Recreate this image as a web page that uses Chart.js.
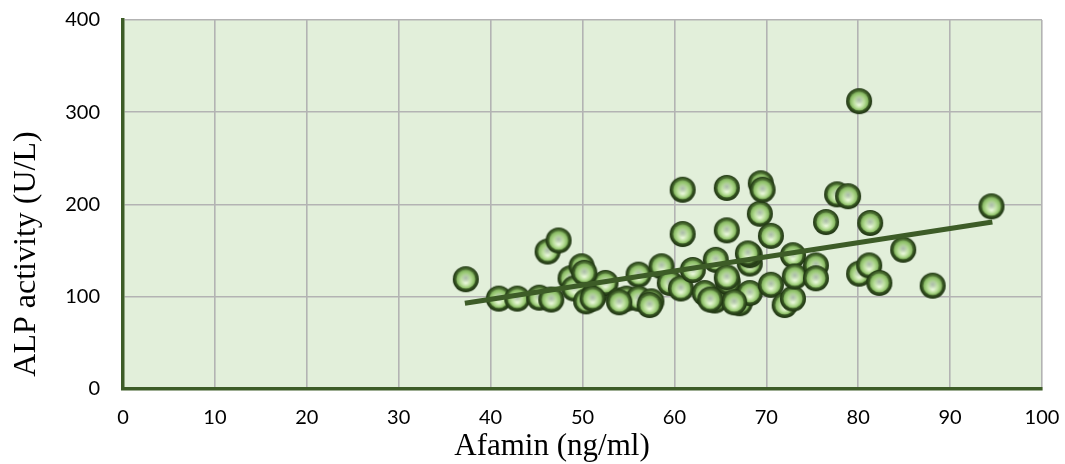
<!DOCTYPE html>
<html>
<head>
<meta charset="utf-8">
<script src="https://cdn.jsdelivr.net/npm/chart.js@4"></script>
<style>
  html, body { margin: 0; padding: 0; background: #ffffff; }
  #wrap { width: 1065px; height: 464px; }
</style>
</head>
<body>
<div id="wrap"><canvas id="alpChart" width="1065" height="464"></canvas></div>
<script>
// afamin (ng/ml) vs ALP activity (U/L)
var afamin = [37.3, 40.9, 42.9, 45.3, 46.2, 46.6, 47.4, 48.7, 49.1, 49.9,
              50.4, 51.3, 52.5, 54.0, 54.8, 56.1, 56.1, 57.5, 58.6, 59.5,
              60.7, 60.9, 60.9, 62.0, 63.3, 64.4, 64.5, 65.7, 65.7, 65.8,
              67.1, 68.2, 68.2, 68.2, 69.3, 69.4, 69.6, 70.5, 70.5, 72.0,
              72.9, 72.9, 73.1, 75.4, 75.4, 76.5, 77.7, 78.9, 80.1, 80.1,
              81.2, 81.3, 82.3, 84.9, 88.1, 94.5,
              54.0, 57.3, 51.1, 65.7, 66.5, 63.9, 68.0, 50.2];
var alp    = [119, 98, 98, 99, 149, 97, 161, 120, 109, 133,
              95, 102, 115, 96, 98, 124, 98, 95, 133, 115,
              109, 168, 216, 129, 104, 96, 140, 218, 172, 116,
              93, 104, 136, 145, 190, 223, 216, 166, 113, 91,
              98, 145, 122, 134, 120, 181, 211, 209, 312, 125,
              134, 180, 115, 151, 112, 198,
              94, 91, 98, 121, 94, 97, 147, 126];

// linear trend line ends as drawn in the figure
var trendX = [37.2, 94.6];
var trendY = [93, 181];

var xTicks = [0, 100, 10];
var yTicks = [0, 400, 100];

var darkGreen = '#3d5c27';

function makeBall(r) {
    var c = document.createElement('canvas');
    var s = Math.ceil(2 * r + 2);
    c.width = s; c.height = s;
    var g = c.getContext('2d');
    var cx = s / 2, cy = s / 2;

    var ring = g.createRadialGradient(cx, cy - r * 0.2, r * 0.5, cx, cy, r);
    ring.addColorStop(0, '#5f8442');
    ring.addColorStop(0.6, '#3a5a24');
    ring.addColorStop(1, '#1c3010');
    g.fillStyle = ring;
    g.beginPath(); g.arc(cx, cy, r, 0, Math.PI * 2); g.fill();

    var ir = r * 0.74;
    var inner = g.createRadialGradient(cx, cy + ir * 0.35, 1, cx, cy, ir);
    inner.addColorStop(0, '#e6f6d6');
    inner.addColorStop(0.5, '#b9de9a');
    inner.addColorStop(0.85, '#8fc06a');
    inner.addColorStop(1, '#6f9c4f');
    g.fillStyle = inner;
    g.beginPath(); g.arc(cx, cy, ir, 0, Math.PI * 2); g.fill();

    var spot = g.createRadialGradient(cx, cy - r * 0.1, 0, cx, cy - r * 0.1, r * 0.38);
    spot.addColorStop(0, 'rgba(170,185,170,0.95)');
    spot.addColorStop(1, 'rgba(170,185,170,0)');
    g.fillStyle = spot;
    g.beginPath(); g.arc(cx, cy - r * 0.1, r * 0.38, 0, Math.PI * 2); g.fill();
    return c;
}

var ball = makeBall(13);

var points = afamin.map(function (x, i) { return { x: x, y: alp[i] }; });
var trend = trendX.map(function (x, i) { return { x: x, y: trendY[i] }; });

var plotBg = {
    id: 'plotBg',
    beforeDraw: function (chart) {
        var a = chart.chartArea, ctx = chart.ctx;
        ctx.save();
        ctx.fillStyle = '#ffffff';
        ctx.fillRect(0, 0, chart.width, chart.height);
        ctx.fillStyle = '#e2efda';
        ctx.fillRect(a.left, a.top, a.right - a.left, a.bottom - a.top);
        ctx.restore();
    }
};

var axisTitles = {
    id: 'axisTitles',
    afterDraw: function (chart) {
        var ctx = chart.ctx;
        ctx.save();
        ctx.fillStyle = '#000000';
        ctx.textAlign = 'center';
        ctx.textBaseline = 'alphabetic';
        ctx.font = '31px "Liberation Serif", "Times New Roman", serif';
        ctx.fillText('Afamin (ng/ml)', 552, 455);
        ctx.translate(35, 254);
        ctx.rotate(-Math.PI / 2);
        ctx.font = '32px "Liberation Serif", "Times New Roman", serif';
        ctx.fillText('ALP activity (U/L)', 0, 0);
        ctx.restore();
    }
};

function noPad(s) {
    s.paddingTop = 0; s.paddingBottom = 0;
    s.paddingLeft = 0; s.paddingRight = 0;
}

var ctx = document.getElementById('alpChart').getContext('2d');
var alpChart = new Chart(ctx, {
    type: 'scatter',
    data: {
        datasets: [
            {
                label: 'Trend',
                type: 'line',
                data: trend,
                borderColor: darkGreen,
                borderWidth: 5,
                pointRadius: 0,
                fill: false,
                order: 0
            },
            {
                label: 'ALP',
                data: points,
                pointStyle: ball,
                pointRadius: 13,
                order: 1
            }
        ]
    },
    options: {
        responsive: false,
        animation: false,
        devicePixelRatio: 1,
        layout: { padding: { top: 20, right: 23, left: 0, bottom: 0 } },
        plugins: {
            legend: { display: false },
            tooltip: { enabled: false }
        },
        scales: {
            x: {
                type: 'linear',
                min: xTicks[0],
                max: xTicks[1],
                afterFit: function (s) { s.height = 75; noPad(s); },
                ticks: {
                    stepSize: xTicks[2],
                    padding: 17,
                    color: '#000000',
                    font: { family: 'Lato', size: 20 }
                },
                grid: { color: '#b3b3b3', lineWidth: 1.6, drawTicks: false },
                border: { color: darkGreen, width: 3.5 }
            },
            y: {
                min: yTicks[0],
                max: yTicks[1],
                afterFit: function (s) { s.width = 123; noPad(s); },
                ticks: {
                    stepSize: yTicks[2],
                    padding: 23,
                    color: '#000000',
                    font: { family: 'Lato', size: 20 }
                },
                grid: { color: '#b3b3b3', lineWidth: 1.6, drawTicks: false },
                border: { color: darkGreen, width: 3.5 }
            }
        }
    },
    plugins: [plotBg, axisTitles]
});
</script>
</body>
</html>
